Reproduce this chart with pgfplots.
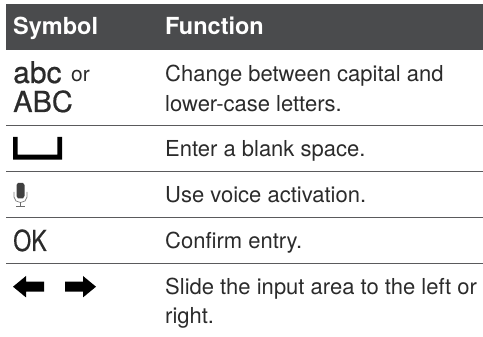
\documentclass[border=0pt]{standalone}
\usepackage{pgfplots}
\pgfplotsset{compat=1.18}
\usepackage{graphicx}
\usepackage{fontspec}
\setmainfont{TeX Gyre Heros}
\newfontfamily\iconfont[FakeBold=0.6]{TeX Gyre Heros}
\definecolor{hdr}{HTML}{4A4B4D}
\definecolor{rule}{HTML}{5A5A5C}
\definecolor{txt}{HTML}{2B2B2B}
\begin{document}
\begin{tikzpicture}[x=1pt,y=1pt]
\path[use as bounding box] (0,0) rectangle (483,337);
\begin{axis}[at={(0,0)},anchor=south west,scale only axis,width=483pt,height=337pt,
  xmin=0,xmax=483,ymin=0,ymax=337,y dir=reverse,hide axis,clip=false]
% header
\addplot[fill=hdr,draw=none] coordinates {(6,4) (483,4) (483,50) (6,50)} --cycle;
% rules
\addplot[rule,line width=0.9pt] coordinates {(6,125.5) (483,125.5)};
\addplot[rule,line width=0.9pt] coordinates {(6,171.5) (483,171.5)};
\addplot[rule,line width=0.9pt] coordinates {(6,217.5) (483,217.5)};
\addplot[rule,line width=0.9pt] coordinates {(6,263.5) (483,263.5)};
% blank space
\addplot[fill=black,draw=none] coordinates {(13,137) (17.7,137) (17.7,154.7) (57.3,154.7) (57.3,137) (62,137) (62,159.7) (13,159.7)} --cycle;
% arrows
\addplot[fill=black,draw=none] coordinates {(13,286.7) (26,276) (26,281.7) (44,281.7) (44,291.7) (26,291.7) (26,297.4)} --cycle;
\addplot[fill=black,draw=none] coordinates {(96,286.7) (83,276) (83,281.7) (65,281.7) (65,291.7) (83,291.7) (83,297.4)} --cycle;
% microphone
\addplot[fill=txt!90,draw=none] coordinates {(16.5,185) (18,183) (23,183) (24.5,185) (24.5,196) (23,198.5) (18,198.5) (16.5,196)} --cycle;
\addplot[txt!60,line width=0.7pt] coordinates {(14,192) (14,197) (16,201) (20.5,202.5) (25,201) (27,197) (27,192)};
\addplot[txt!70,line width=0.8pt] coordinates {(20.5,202.5) (20.5,206)};
\addplot[txt!70,line width=0.8pt] coordinates {(16,206) (25,206)};
% text
\node[anchor=base west,inner sep=0pt,text=white,font=\fontsize{23.5}{23.5}\selectfont\bfseries] at (axis cs:13,35) {Symbol};
\node[anchor=base west,inner sep=0pt,text=white,font=\fontsize{23.5}{23.5}\selectfont\bfseries] at (axis cs:165,35) {Function};
\node[anchor=base west,inner sep=0pt,text=txt,font=\fontsize{30}{30}\iconfont] at (axis cs:13,83) {abc};
\node[anchor=base west,inner sep=0pt,text=txt,font=\fontsize{21}{21}\selectfont] at (axis cs:71,82) {or};
\node[anchor=base west,inner sep=0pt,text=txt,font=\fontsize{29}{29}\iconfont] at (axis cs:13,112) {ABC};
\node[anchor=base west,inner sep=0pt,text=txt,font=\fontsize{29}{29}\iconfont] at (axis cs:13,251) {\scalebox{0.8}[1]{OK}};
\foreach \t/\x/\y in {Change between capital and/165/82,lower-case letters./165/112,Enter a blank space./165/157,Use voice activation./165/203,Confirm entry./165/249,Slide the input area to the left or/165/295,right./165/323.5}{
  \edef\temp{\noexpand\node[anchor=base west,inner sep=0pt,text=txt,font=\noexpand\fontsize{22}{22}\noexpand\selectfont] at (axis cs:\x,\y) {\t};}
  \temp
}
\end{axis}
\end{tikzpicture}
\end{document}
